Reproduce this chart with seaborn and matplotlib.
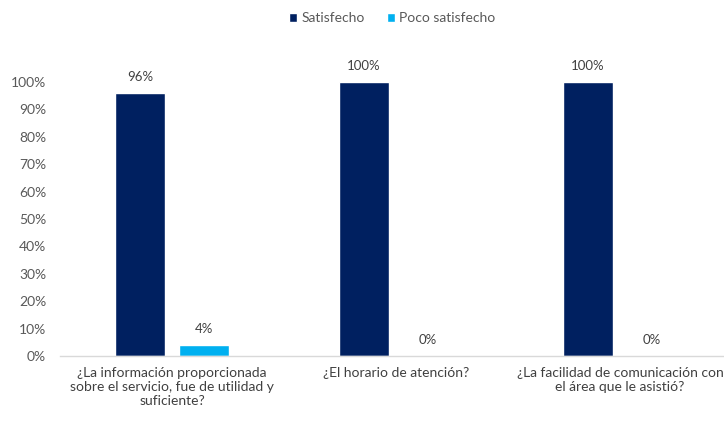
import pandas as pd
import numpy as np
import matplotlib.pyplot as plt
import seaborn as sns

sns.set_theme(style="white")
plt.rcParams['font.family'] = ['Lato', 'DejaVu Sans']

preguntas = [
    "¿La información proporcionada\nsobre el servicio, fue de utilidad y\nsuficiente?",
    "¿El horario de atención?",
    "¿La facilidad de comunicación con\nel área que le asistió?",
]
series = ["Satisfecho", "Poco satisfecho"]
satisfecho = [0.96, 1.00, 1.00]
poco_satisfecho = [0.04, 0.00, 0.00]
colores = ["#002060", "#00B0F0"]
yticks = [0, 0.1, 0.2, 0.3, 0.4, 0.5, 0.6, 0.7, 0.8, 0.9, 1.0]

df = pd.DataFrame({
    "pregunta": preguntas * 2,
    "serie": [series[0]] * 3 + [series[1]] * 3,
    "valor": satisfecho + poco_satisfecho,
})

fig = plt.figure(figsize=(7.24, 4.21), dpi=100)
ax = fig.add_axes([60 / 724, 65 / 421, 1 - 60 / 724, 301.4 / 421])

sns.barplot(data=df, x="pregunta", y="valor", hue="serie", palette=colores,
            width=0.571, gap=0.22, ax=ax, legend=True, saturation=1)

for cont in ax.containers:
    labels = [f"{v * 100:.0f}%" for v in cont.datavalues]
    ax.bar_label(cont, labels=labels, padding=7, fontsize=9.5, color="#404040")

ax.set_xlim(-0.5, 2.464)
ax.set_ylim(0, 1.1)
ax.set_yticks(yticks)
ax.set_yticklabels([f"{t * 100:.0f}%" for t in yticks])
ax.set_xlabel("")
ax.set_ylabel("")
ax.tick_params(axis="y", length=0, pad=10, labelsize=10, labelcolor="#595959")
ax.tick_params(axis="x", length=0, pad=8, labelsize=10, labelcolor="#404040")
for s in ["top", "right", "left"]:
    ax.spines[s].set_visible(False)
ax.spines["bottom"].set_color("#D9D9D9")
ax.spines["bottom"].set_linewidth(1)

ax.legend(loc="center", bbox_to_anchor=(392 / 724, 403 / 421), bbox_transform=fig.transFigure,
          ncol=2, frameon=False, fontsize=10, handlelength=0.6, handleheight=0.6,
          handletextpad=0.3, columnspacing=1.6, labelcolor="#595959")

fig.savefig("out.png", dpi=100)
